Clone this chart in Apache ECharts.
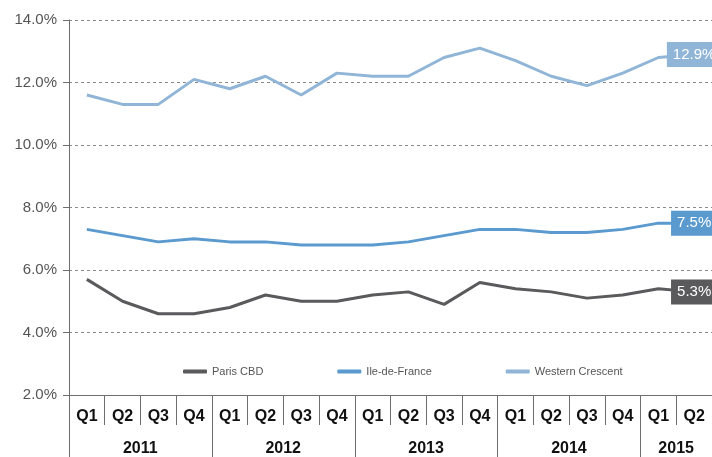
<!DOCTYPE html>
<html>
<head>
<meta charset="utf-8">
<script src="https://cdn.jsdelivr.net/npm/echarts@6/dist/echarts.min.js"></script>
<style>
  html, body { margin: 0; padding: 0; background: #fff; }
  #chart { width: 712px; height: 457px; }
</style>
</head>
<body>
<div id="chart"></div>
<script>
// quarters from Q1 2011 to Q2 2015
var quarters = ['Q1','Q2','Q3','Q4','Q1','Q2','Q3','Q4','Q1','Q2','Q3','Q4','Q1','Q2','Q3','Q4','Q1','Q2'];
var years = ['2011','2012','2013','2014','2015'];
var yearStart = [0, 4, 8, 12, 16];     // index where each year starts
var yearLabelAt = [2, 6, 10, 14, 17];  // label sits half a band left of this index

var parisCBD = [5.7,5.0,4.6,4.6, 4.8,5.2,5.0,5.0, 5.2,5.3,4.9,5.6, 5.4,5.3,5.1,5.2, 5.4,5.3];
var ileDeFrance = [7.3,7.1,6.9,7.0, 6.9,6.9,6.8,6.8, 6.8,6.9,7.1,7.3, 7.3,7.2,7.2,7.3, 7.5,7.5];
var westernCrescent = [11.6,11.3,11.3,12.1, 11.8,12.2,11.6,12.3, 12.2,12.2,12.8,13.1, 12.7,12.2,11.9,12.3, 12.8,12.9];

var colors = ['#5a5a5d', '#5a9acf', '#90b5d7'];
var fontFam = '"Liberation Sans", Arial, sans-serif';

// put the box label on the last point only
function withEndLabel(arr, color){
  return arr.map(function(v, i){
    if(i != arr.length - 1) return v;
    return {
      value: v,
      label: {
        show: true,
        position: 'inside',
        formatter: function(p){ return p.value.toFixed(1) + '%'; },
        backgroundColor: color,
        color: '#fff',
        fontFamily: fontFam,
        fontSize: 15,
        padding: [5, 6, 5, 6]
      }
    };
  });
}

function lineSeries(name, arr, color){
  return {
    name: name,
    type: 'line',
    data: withEndLabel(arr, color),
    symbol: 'circle',
    symbolSize: 0.1,
    showSymbol: true,
    itemStyle: { color: color },
    lineStyle: { width: 3, color: color },
    label: { show: false },
    z: 3
  };
}

var chart = echarts.init(document.getElementById('chart'));

var option = {
  animation: false,
  color: colors,
  grid: { left: 69, right: 0, top: 20, bottom: 62 },
  legend: {
    left: 178,
    top: 361,
    itemGap: 74,
    itemWidth: 24,
    itemHeight: 4,
    icon: 'roundRect',
    textStyle: { color: '#555', fontSize: 11, fontFamily: fontFam },
    data: ['Paris CBD', 'Ile-de-France', 'Western Crescent']
  },
  xAxis: [{
    type: 'category',
    data: quarters,
    boundaryGap: true,
    axisLine: { lineStyle: { color: '#6e6e6e', width: 1 } },
    axisTick: { show: true, interval: 0, length: 30, lineStyle: { color: '#6e6e6e' } },
    axisLabel: {
      interval: 0,
      margin: 14,
      color: '#111',
      fontWeight: 'bold',
      fontSize: 16,
      fontFamily: fontFam
    },
    splitLine: { show: false }
  }, {
    type: 'category',
    data: quarters,
    position: 'bottom',
    boundaryGap: true,
    axisLine: { show: false },
    axisTick: {
      show: true,
      length: 62,
      interval: function(index){ return yearStart.indexOf(index) >= 0; },
      lineStyle: { color: '#6e6e6e' }
    },
    axisLabel: {
      interval: 0,
      margin: 46,
      formatter: function(v, index){
        var k = yearLabelAt.indexOf(index);
        if(k < 0) return '';
        return '{y|' + years[k] + '}';
      },
      rich: {
        y: {
          color: '#111',
          fontWeight: 'bold',
          fontSize: 16,
          fontFamily: fontFam,
          padding: [0, 36, 0, 0]
        }
      }
    },
    splitLine: { show: false }
  }],
  yAxis: {
    type: 'value',
    min: 2,
    max: 14,
    interval: 2,
    axisLine: { show: true, lineStyle: { color: '#6e6e6e' } },
    axisTick: { show: true, length: 6, lineStyle: { color: '#6e6e6e' } },
    axisLabel: {
      margin: 12,
      color: '#555',
      fontSize: 15,
      fontFamily: fontFam,
      formatter: function(v){ return v.toFixed(1) + '%'; }
    },
    splitLine: { show: true, lineStyle: { color: '#8a8a8a', type: [3, 3], width: 1 } }
  },
  series: [
    lineSeries('Paris CBD', parisCBD, colors[0]),
    lineSeries('Ile-de-France', ileDeFrance, colors[1]),
    lineSeries('Western Crescent', westernCrescent, colors[2])
  ]
};

chart.setOption(option);
</script>
</body>
</html>
